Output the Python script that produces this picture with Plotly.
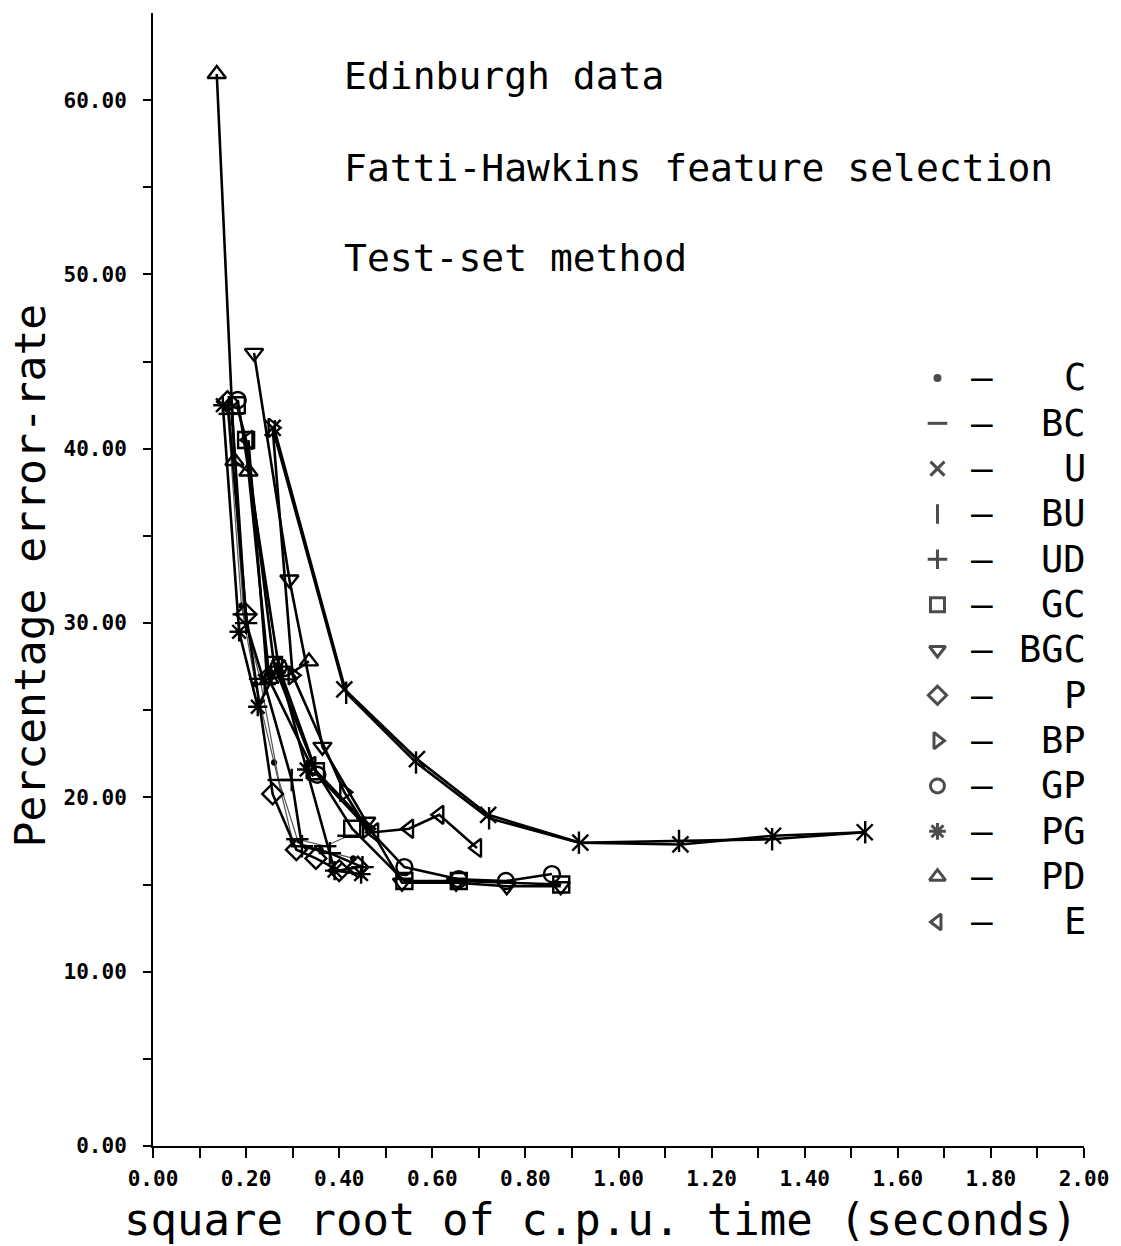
import plotly.graph_objects as go

# ---------------- data ----------------
series_names = ["C", "BC", "U", "BU", "UD", "GC", "BGC", "P", "BP", "GP", "PG", "PD", "E"]

C_x = [0.160, 0.190, 0.220, 0.260, 0.300, 0.360, 0.430]
C_y = [42.3, 31.0, 26.5, 22.0, 17.5, 17.0, 16.5]

BC_x = [0.165, 0.195, 0.230, 0.270, 0.310, 0.370, 0.420]
BC_y = [42.0, 30.5, 26.8, 21.0, 17.6, 17.2, 17.8]

U_x = [0.257, 0.411, 0.567, 0.720, 0.918, 1.133, 1.332, 1.529]
U_y = [41.2, 26.2, 22.2, 19.0, 17.4, 17.3, 17.8, 18.0]

BU_x = [0.262, 0.415, 0.565, 0.722, 0.915, 1.130, 1.330, 1.530]
BU_y = [41.0, 26.0, 22.0, 18.8, 17.4, 17.5, 17.6, 18.0]

UD_x = [0.170, 0.200, 0.240, 0.298, 0.320, 0.380, 0.450]
UD_y = [42.0, 30.0, 26.5, 21.0, 17.2, 16.8, 16.0]

GC_x = [0.180, 0.200, 0.260, 0.350, 0.428, 0.540, 0.657, 0.877]
GC_y = [42.5, 40.5, 27.6, 21.5, 18.2, 15.2, 15.2, 15.0]

BGC_x = [0.217, 0.293, 0.364, 0.458, 0.535, 0.651, 0.760, 0.876]
BGC_y = [45.5, 32.5, 22.9, 18.6, 15.1, 15.1, 14.9, 14.9]

P_x = [0.160, 0.200, 0.257, 0.308, 0.350, 0.400, 0.440]
P_y = [42.7, 30.5, 20.2, 17.0, 16.5, 15.8, 16.0]

BP_x = [0.257, 0.300, 0.411, 0.460]
BP_y = [41.2, 27.0, 20.3, 18.2]

GP_x = [0.182, 0.270, 0.353, 0.540, 0.657, 0.758, 0.857]
GP_y = [42.8, 27.5, 21.3, 16.0, 15.3, 15.2, 15.6]

PG_x = [0.150, 0.185, 0.225, 0.270, 0.330, 0.390, 0.447]
PG_y = [42.5, 29.5, 25.2, 27.5, 21.6, 15.8, 15.6]

PD_x = [0.137, 0.175, 0.205, 0.250, 0.290, 0.335]
PD_y = [61.5, 39.3, 38.7, 26.8, 27.0, 27.8]

E_x = [0.205, 0.245, 0.340, 0.475, 0.550, 0.615, 0.696]
E_y = [40.5, 27.0, 21.8, 18.0, 18.2, 19.0, 17.1]

x_tick_vals = [i / 10 for i in range(0, 21)]
x_tick_text = [f"{v:.2f}" if i % 2 == 0 else "" for i, v in enumerate(x_tick_vals)]
y_tick_vals = list(range(0, 65, 5))
y_tick_text = [f"{v:.2f}" if v % 10 == 0 else "" for v in y_tick_vals]

titles = ["Edinburgh data", "Fatti-Hawkins feature selection", "Test-set method"]
x_title = "square root of c.p.u. time (seconds)"
y_title = "Percentage error-rate"

# ---------------- styles ----------------
symbols = {
    "C": "circle", "BC": "line-ew", "U": "x-thin", "BU": "line-ns", "UD": "cross-thin",
    "GC": "square-open", "BGC": "triangle-down-open", "P": "diamond-open",
    "BP": "triangle-right-open", "GP": "circle-open", "PG": "asterisk-open",
    "PD": "triangle-up-open", "E": "triangle-left-open",
}
data = {
    "C": (C_x, C_y), "BC": (BC_x, BC_y), "U": (U_x, U_y), "BU": (BU_x, BU_y),
    "UD": (UD_x, UD_y), "GC": (GC_x, GC_y), "BGC": (BGC_x, BGC_y), "P": (P_x, P_y),
    "BP": (BP_x, BP_y), "GP": (GP_x, GP_y), "PG": (PG_x, PG_y), "PD": (PD_x, PD_y),
    "E": (E_x, E_y),
}

fig = go.Figure()
for name in series_names:
    xs, ys = data[name]
    thin = name in ("C", "BC")
    msize = 4 if name == "C" else 16
    fig.add_trace(go.Scatter(
        x=xs, y=ys, mode="lines+markers", name=name, showlegend=False,
        line=dict(color="#555" if thin else "black", width=1.2 if thin else 2.6),
        marker=dict(symbol=symbols[name], size=msize, color="black",
                    line=dict(color="black", width=2.4)),
    ))

# ---------------- manual legend (on overlay axes 0..1) ----------------
L, R, T, B = 153, 34, 13, 100
W, H = 1121, 1246
pw, ph = W - L - R, H - T - B
row0, row_step = 378, 45.33
leg_sym_px = 940
leg_x = [(leg_sym_px - L) / pw] * len(series_names)
leg_y = [(H - B - (row0 + row_step * i)) / ph for i in range(len(series_names))]
fig.add_trace(go.Scatter(
    x=leg_x, y=leg_y, mode="markers", xaxis="x2", yaxis="y2", showlegend=False,
    marker=dict(symbol=[symbols[n] for n in series_names],
                size=[5 if n == "C" else 14 for n in series_names],
                color="black", line=dict(color="black", width=3)),
    hoverinfo="skip",
))

annotations = []
for i, name in enumerate(series_names):
    yy = leg_y[i]
    annotations.append(dict(x=(985 - L) / pw, y=yy, xref="paper", yref="paper",
                            text="–", showarrow=False, xanchor="center", yanchor="middle",
                            font=dict(family="DejaVu Sans Mono", size=36, color="black")))
    annotations.append(dict(x=(1091 - L) / pw, y=yy, xref="paper", yref="paper",
                            text=name, showarrow=False, xanchor="right", yanchor="middle",
                            font=dict(family="DejaVu Sans Mono", size=37, color="black")))

for t, py in zip(titles, [76, 168, 258]):
    annotations.append(dict(x=(343 - L) / pw, y=(H - B - py) / ph, xref="paper", yref="paper",
                            text=t, showarrow=False, xanchor="left", yanchor="middle",
                            font=dict(family="DejaVu Sans Mono", size=38, color="black")))

annotations.append(dict(x=(602 - L) / pw, y=(H - B - 1219) / ph, xref="paper", yref="paper",
                        text=x_title, showarrow=False, xanchor="center", yanchor="middle",
                        font=dict(family="DejaVu Sans Mono", size=44, color="black")))
annotations.append(dict(x=(30 - L) / pw, y=(H - B - 575) / ph, xref="paper", yref="paper",
                        text=y_title, showarrow=False, xanchor="center", yanchor="middle",
                        textangle=-90,
                        font=dict(family="DejaVu Sans Mono", size=43, color="black")))

tickfont = dict(family="DejaVu Sans Mono", size=21, color="black", weight="bold")

fig.update_layout(
    width=W, height=H,
    margin=dict(l=L, r=R, t=T, b=B),
    paper_bgcolor="white", plot_bgcolor="white",
    showlegend=False,
    annotations=annotations,
    xaxis=dict(range=[0, 2], tickvals=x_tick_vals, ticktext=x_tick_text,
               ticks="outside", ticklen=10, tickwidth=2, tickcolor="black",
               showline=True, linecolor="black", linewidth=2,
               showgrid=False, zeroline=False, tickfont=tickfont,
               ticklabelstandoff=3),
    yaxis=dict(range=[0, 65], tickvals=y_tick_vals, ticktext=y_tick_text,
               ticks="outside", ticklen=8, tickwidth=2, tickcolor="black",
               showline=True, linecolor="black", linewidth=2,
               showgrid=False, zeroline=False, tickfont=tickfont,
               ticklabelstandoff=12),
    xaxis2=dict(range=[0, 1], overlaying="x", visible=False),
    yaxis2=dict(range=[0, 1], overlaying="y", visible=False),
)

fig.write_html("out.html")
